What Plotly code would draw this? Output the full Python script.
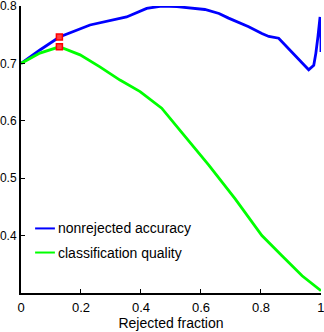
import plotly.graph_objects as go

# Nonrejected accuracy (blue)
acc_x = [0.0, 0.063, 0.128, 0.23, 0.352, 0.419, 0.469, 0.52, 0.613, 0.66, 0.692, 0.759, 0.803, 0.826, 0.859,
         0.881, 0.914, 0.959, 0.976, 0.983, 0.99, 0.997, 1.0, 1.0]
acc_y = [0.700, 0.7235, 0.746, 0.767, 0.781, 0.796, 0.800, 0.799, 0.794, 0.787, 0.779, 0.764, 0.752, 0.747, 0.744,
         0.732, 0.715, 0.689, 0.697, 0.718, 0.747, 0.781, 0.741, 0.720]

# Classification quality (green)
cq_x = [0.0, 0.063, 0.128, 0.197, 0.263, 0.33, 0.397, 0.469, 0.537, 0.626, 0.714, 0.803, 0.87, 0.937, 1.0]
cq_y = [0.700, 0.718, 0.729, 0.715, 0.694, 0.671, 0.651, 0.622, 0.579, 0.523, 0.464, 0.400, 0.365, 0.330, 0.304]

# Marked operating point
mark_x = [0.128, 0.128]
mark_y = [0.746, 0.729]

x_ticks = [0, 0.2, 0.4, 0.6, 0.8, 1]
x_labels = ["0", "0.2", "0.4", "0.6", "0.8", "1"]
y_ticks = [0.4, 0.5, 0.6, 0.7, 0.8]
y_labels = ["0.4", "0.5", "0.6", "0.7", "0.8"]

legend_names = ["nonrejected accuracy", "classification quality"]
colors = ["#0000ff", "#00ff00"]

FONT = "Liberation Sans, Arial, Helvetica, sans-serif"

fig = go.Figure()
fig.add_trace(go.Scatter(x=acc_x, y=acc_y, mode="lines", line=dict(color=colors[0], width=2.8),
                         name=legend_names[0], showlegend=False, cliponaxis=False))
fig.add_trace(go.Scatter(x=cq_x, y=cq_y, mode="lines", line=dict(color=colors[1], width=2.8),
                         name=legend_names[1], showlegend=False, cliponaxis=False))
fig.add_trace(go.Scatter(x=mark_x, y=mark_y, mode="markers",
                         marker=dict(symbol="square", size=6, color="#ff4040",
                                     line=dict(color="#ff0000", width=1.5)),
                         showlegend=False))

# Manual legend (short line samples + text)
leg_y = [0.225, 0.141]
for i in range(2):
    fig.add_shape(type="line", xref="paper", yref="paper", x0=0.047, x1=0.113, y0=leg_y[i], y1=leg_y[i],
                  line=dict(color=colors[i], width=2))
    fig.add_annotation(xref="paper", yref="paper", x=0.118, y=leg_y[i], text=legend_names[i],
                       showarrow=False, xanchor="left", yanchor="middle",
                       font=dict(family=FONT, size=14, color="black"))

fig.update_layout(
    width=324, height=332,
    margin=dict(l=21, r=3, t=6, b=39, autoexpand=False),
    paper_bgcolor="white", plot_bgcolor="white",
    font=dict(family=FONT, size=14, color="black"),
    xaxis=dict(range=[0, 1.0001], tickvals=x_ticks, ticktext=x_labels, ticks="inside", ticklen=4,
               tickcolor="black", showline=True, linecolor="black", linewidth=2, showgrid=False,
               zeroline=False, automargin=False, ticklabeloverflow="allow", ticklabelstandoff=1,
               tickfont=dict(size=13),
               title=dict(text="Rejected fraction", font=dict(size=14), standoff=1)),
    yaxis=dict(range=[0.3, 0.8001], tickvals=y_ticks, ticktext=y_labels, ticks="inside", ticklen=4,
               tickcolor="black", showline=True, linecolor="black", linewidth=2, showgrid=False,
               zeroline=False, automargin=False, ticklabelstandoff=0, ticklabeloverflow="allow",
               tickfont=dict(size=12)),
)

fig.write_html("out.html", post_script="document.body.style.margin='0';",
               config={"displayModeBar": False})
